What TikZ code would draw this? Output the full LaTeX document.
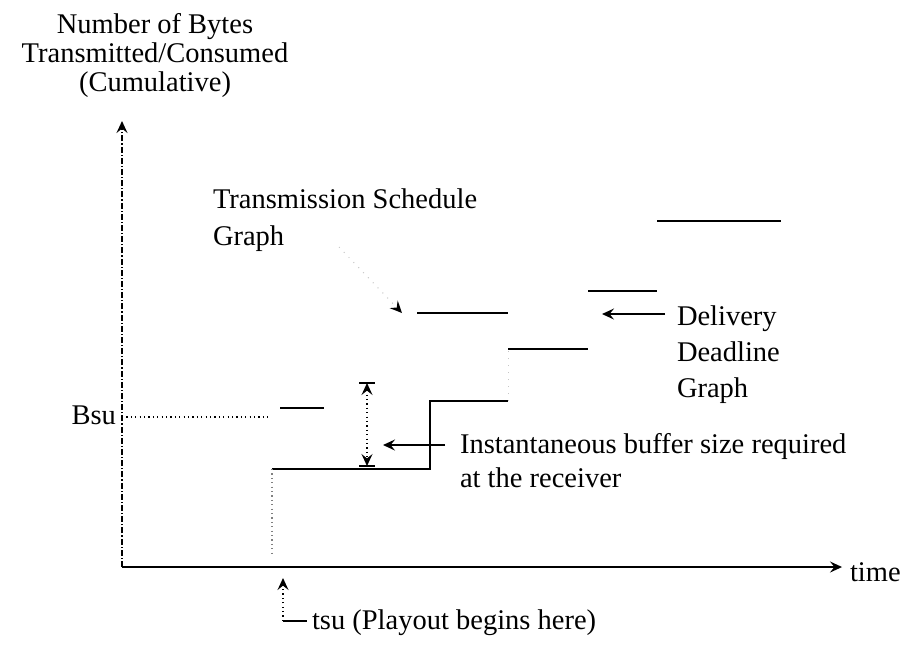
\documentclass[tikz,border=0pt]{standalone}
\usepackage{fontspec}
\setmainfont{Liberation Serif}
\usetikzlibrary{arrows.meta}
\begin{document}
\begin{tikzpicture}[x=0.5pt,y=-0.5pt,
  lbl/.style={font=\fontsize{14.25}{17}\selectfont, inner sep=0pt, outer sep=0pt},
  stepline/.style={line width=1.1pt},
  axisline/.style={line width=0.8pt},
  dotline/.style={line width=0.6pt, dash pattern=on 0.6pt off 1.6pt},
  faintline/.style={line width=0.5pt, gray!45, dash pattern=on 0.5pt off 3pt},
  tip/.style={-{Stealth[length=6pt,width=5.5pt,inset=2.2pt]}},
]
\useasboundingbox (0,0) rectangle (919,645);

% title
\node[lbl, anchor=base] (t1) at (155,33) {Number of Bytes};
\node[lbl, anchor=base] (t2) at (155,62) {Transmitted/Consumed};
\node[lbl, anchor=base] (t3) at (155,91) {(Cumulative)};

% axes
\coordinate (O) at (122,567);
\coordinate (ytop) at (122,121);
\coordinate (xend) at (842,567);
\draw[axisline, dash pattern=on 3pt off 1pt on 0.6pt off 1pt, tip] (O) -- (ytop);
\draw[axisline, tip] (O) -- (xend);
\node[lbl, anchor=base west] (time) at (850,581) {time};

% Bsu
\node[lbl, anchor=base east] (bsu) at (116,424) {Bsu};
\coordinate (bsuax) at (122,417);
\coordinate (bsuend) at (270,417);
\draw[dotline] (bsuax) -- (bsuend);

% delivery deadline graph
\coordinate (d0) at (272,469);
\coordinate (d0b) at (272,553);
\coordinate (d1) at (430,469);
\coordinate (d2) at (430,401);
\coordinate (d3) at (508,401);
\coordinate (d4) at (508,349);
\coordinate (d5) at (588,349);
\coordinate (d6) at (588,291);
\coordinate (d7) at (657,291);
\coordinate (d8) at (657,221);
\coordinate (d9) at (781,221);
\draw[stepline] (d0) -- (d1) -- (d2) -- (d3);
\draw[faintline] (d3) -- (d4);
\draw[stepline] (d4) -- (d5);
\draw[stepline] (d6) -- (d7);
\draw[stepline] (d8) -- (d9);
\draw[dotline, gray] (d0) -- (d0b);

% transmission schedule graph
\coordinate (s1a) at (280,408);
\coordinate (s1b) at (324,408);
\coordinate (s2a) at (417,313);
\coordinate (s2b) at (508,313);
\draw[stepline] (s1a) -- (s1b);
\draw[stepline] (s2a) -- (s2b);

\node[lbl, anchor=base west] (ts1) at (213,208) {Transmission Schedule};
\node[lbl, anchor=base west] (ts2) at (213,245) {Graph};
\coordinate (tsfrom) at (339,247);
\coordinate (tsto) at (402,313);
\draw[line width=0.5pt, gray!45, dash pattern=on 0.5pt off 3pt,
  -{Stealth[length=6pt,width=5.5pt,inset=2.2pt,color=black,line width=0.8pt]}] (tsfrom) -- (tsto);

% buffer size marker
\coordinate (bt) at (367,383);
\coordinate (bb) at (367,466);
\draw[dotline, {Stealth[length=6pt,width=5.5pt,inset=2.2pt]}-{Stealth[length=6pt,width=5.5pt,inset=2.2pt]}] (bt) -- (bb);
\draw[line width=1pt] (bt) ++(-8,0) -- ++(16,0);
\draw[line width=1pt] (bb) ++(-8,0) -- ++(16,0);

\node[lbl, anchor=base west] (ib1) at (460,453) {Instantaneous buffer size required};
\node[lbl, anchor=base west] (ib2) at (460,487) {at the receiver};
\coordinate (ibtail) at (445,445);
\coordinate (ibtip) at (383,445);
\draw[axisline, tip] (ibtail) -- (ibtip);

% delivery label
\node[lbl, anchor=base west] (dl1) at (677,325) {Delivery};
\node[lbl, anchor=base west] (dl2) at (677,361) {Deadline};
\node[lbl, anchor=base west] (dl3) at (677,397) {Graph};
\coordinate (dltail) at (665,314);
\coordinate (dltip) at (602,314);
\draw[axisline, tip] (dltail) -- (dltip);

% tsu
\node[lbl, anchor=base west] (tsu) at (312,629) {tsu (Playout begins here)};
\coordinate (tsutip) at (283,578);
\coordinate (tsucorner) at (283,621);
\coordinate (tsuline) at (307,621);
\draw[dotline, tip] (tsucorner) -- (tsutip);
\draw[axisline] (tsucorner) -- (tsuline);
\end{tikzpicture}
\end{document}
